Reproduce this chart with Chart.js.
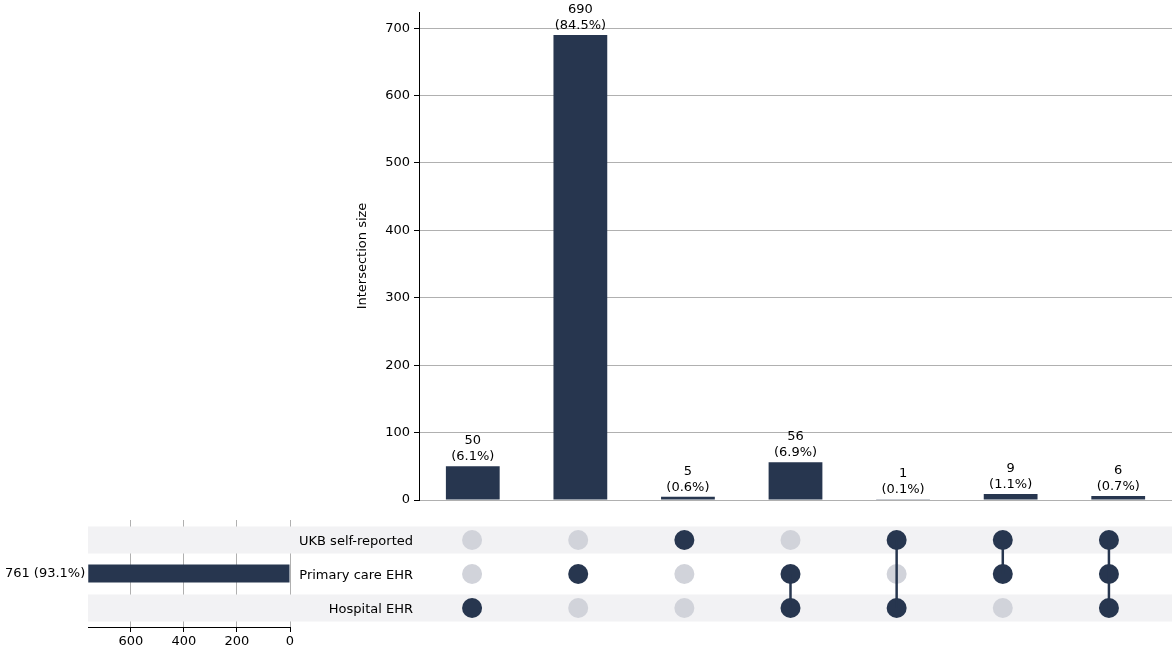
<!DOCTYPE html>
<html><head><meta charset="utf-8">
<script src="https://cdn.jsdelivr.net/npm/chart.js@4/dist/chart.umd.min.js"></script>
<style>
html,body{margin:0;padding:0;background:#fff;}
#wrap{position:relative;width:1172px;height:651px;}
canvas{position:absolute;left:0;top:0;}
</style></head><body>
<div id="wrap">
<canvas id="c3" width="1172" height="651"></canvas>
<canvas id="c1" width="1172" height="651"></canvas>
<canvas id="c2" width="1172" height="651"></canvas>
</div>
<script>
const setNames = ["UKB self-reported", "Primary care EHR", "Hospital EHR"];
const setSizes = [21, 761, 113];
const intersectionSizes = [50, 690, 5, 56, 1, 9, 6];
// membership per intersection: [UKB, Primary, Hospital]
const membership = [
  [0,0,1],[0,1,0],[1,0,0],[0,1,1],[1,0,1],[1,1,0],[1,1,1]
];
const yTicksTop = [0,100,200,300,400,500,600,700];
const total = intersectionSizes.reduce((a,b)=>a+b,0);
const DARK = '#27364f', LIGHT = '#d1d3da', FONT = 'DejaVu Sans';
Chart.defaults.font.family = FONT;
Chart.defaults.font.size = 13;
Chart.defaults.color = '#000';
Chart.defaults.animation = false;
Chart.defaults.responsive = false;
const pct = v => (100*v/total).toFixed(1) + '%';

// Top intersection bar chart
new Chart(document.getElementById('c1'), {
  type: 'bar',
  data: { labels: intersectionSizes.map((_,i)=>String(i)),
    datasets: [{ data: intersectionSizes, backgroundColor: DARK, barPercentage: 0.5, categoryPercentage: 1 }] },
  options: {
    layout: { padding: { left: 355, top: 12, bottom: 151, right: 0 } },
    plugins: { legend: { display: false }, tooltip: { enabled: false } },
    scales: {
      x: { display: false },
      y: { min: 0, max: 724, afterFit: s => { s.width = 64; },
        afterBuildTicks: s => { s.ticks = yTicksTop.map(v=>({value:v})); },
        grid: { color: '#b0b0b0', drawTicks: true, tickLength: 5, tickColor: '#000' },
        border: { color: '#000' },
        title: { display: true, text: 'Intersection size', padding: 0 },
        ticks: { padding: 4 } }
    }
  },
  plugins: [{ id: 'lbl', afterDatasetsDraw(ch) {
    const ctx = ch.ctx; const meta = ch.getDatasetMeta(0);
    ctx.save(); ctx.font = '13px ' + FONT; ctx.fillStyle = '#000'; ctx.textAlign = 'center';
    meta.data.forEach((b,i)=>{
      const v = intersectionSizes[i];
      ctx.fillText(String(v), b.x, b.y - 22);
      ctx.fillText('(' + pct(v) + ')', b.x, b.y - 6);
    });
    ctx.restore();
  }}]
});

// Matrix
const dotData = [], dotColors = [];
membership.forEach((m,i)=>m.forEach((on,r)=>{ dotData.push({x:i, y:2-r}); dotColors.push(on?DARK:LIGHT); }));
const lineSets = membership.map((m,i)=>{
  const ys = m.map((on,r)=>on?2-r:null).filter(v=>v!==null);
  return { type:'line', data: ys.length>1 ? [{x:i,y:Math.min(...ys)},{x:i,y:Math.max(...ys)}] : [],
    borderColor: DARK, borderWidth: 2.5, pointRadius: 0, showLine: true };
});
new Chart(document.getElementById('c2'), {
  type: 'scatter',
  data: { datasets: [...lineSets, { data: dotData, pointBackgroundColor: dotColors, pointBorderWidth: 0, pointRadius: 10 }] },
  options: {
    layout: { padding: { left: 419, right: 0, top: 523, bottom: 26 } },
    plugins: { legend: { display: false }, tooltip: { enabled: false } },
    scales: { x: { display: false, min: -0.5, max: 6.5 }, y: { display: false, min: -0.5, max: 2.5 } }
  },
  plugins: [{ id: 'bg', beforeDatasetsDraw(ch) {
    const ctx = ch.ctx, ys = ch.scales.y;
    ctx.save(); ctx.fillStyle = '#f2f2f4';
    [0,2].forEach(v=>{ const y = ys.getPixelForValue(v); ctx.fillRect(88, y-13.5, 1172-88, 27); });
    ctx.font = '13px ' + FONT; ctx.fillStyle = '#000'; ctx.textAlign = 'right'; ctx.textBaseline = 'middle';
    setNames.forEach((n,r)=>{ ctx.fillText(n, 413, ys.getPixelForValue(2-r) + 2); });
    ctx.restore();
  }}]
});

// Left set-size bars
new Chart(document.getElementById('c3'), {
  type: 'bar',
  data: { labels: setNames, datasets: [{ data: setSizes, backgroundColor: DARK, barPercentage: 0.5, categoryPercentage: 1 }] },
  options: {
    indexAxis: 'y',
    layout: { padding: { left: 88, right: 882, top: 520, bottom: 0 } },
    plugins: { legend: { display: false }, tooltip: { enabled: false } },
    scales: {
      y: { display: false },
      x: { reverse: true, min: 0, max: 762, afterFit: s => { s.height = 24; },
        afterBuildTicks: s => { s.ticks = [0,200,400,600].map(v=>({value:v})); },
        grid: { color: '#b0b0b0', tickColor: '#000', tickLength: 5 },
        border: { color: '#000' }, ticks: { padding: 2 } }
    }
  },
  plugins: [{ id: 'lbl2', afterDatasetsDraw(ch) {
    const ctx = ch.ctx; const meta = ch.getDatasetMeta(0);
    ctx.save(); ctx.font = '13px ' + FONT; ctx.fillStyle = '#000'; ctx.textAlign = 'right'; ctx.textBaseline = 'middle';
    meta.data.forEach((b,i)=>{ ctx.fillText(setSizes[i] + ' (' + pct(setSizes[i]) + ')', b.x - 3, b.y); });
    ctx.restore();
  }}]
});
</script>
</body></html>
